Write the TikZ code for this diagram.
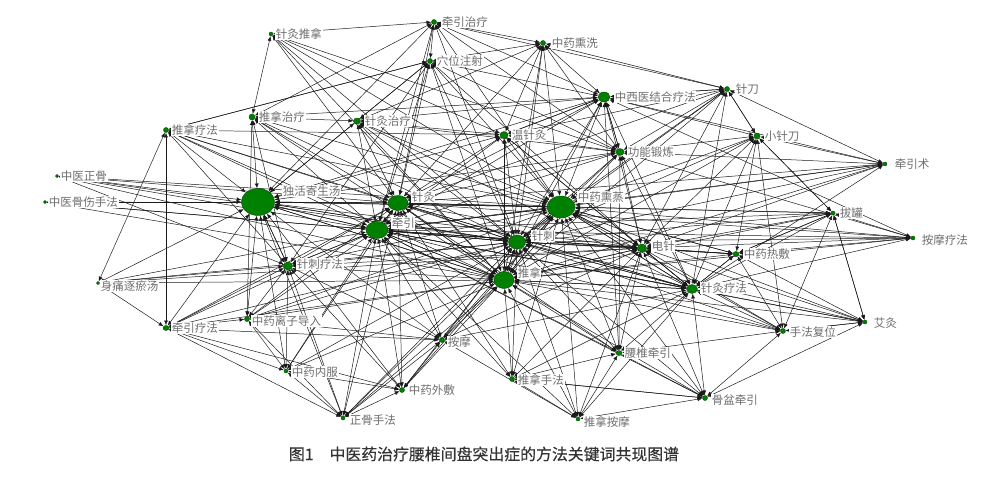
\documentclass[tikz,border=0pt]{standalone}
\usepackage{fontspec}
\usepackage{xcolor}
\usepackage{tikz}
\usetikzlibrary{arrows.meta,backgrounds,shapes.geometric}
\newfontfamily\cjk{Noto Sans CJK SC}
\newfontfamily\cjkcap[FakeBold=0.35]{Noto Sans CJK SC}
\newcommand{\pxu}{0.025cm}
% name/x/y/width/height/label x/label y/text (pixels)
\def\keywords{
  qyzl/434/22/5/5/441/22/牵引治疗,
  zjtn/271/34/4/4/275/34/针灸推拿,
  zyxx/543/43/5/5/551/43/中药熏洗,
  xwzs/430/61/5/5/436/61/穴位注射,
  zxy/604/97/12/10/614/97/中西医结合疗法,
  zd/727/89/5/5/735/89/针刀,
  tnzl/252/117/6/6/258/117/推拿治疗,
  zjzl/357/121/7/6/364/121/针灸治疗,
  tnlf/166/130/5/5/171/130/推拿疗法,
  wzj/504/135/8/7/511/135/温针灸,
  xzd/757/136/6/6/764/136/小针刀,
  gndl/620/152/8/7/627/152/功能锻炼,
  qys/885/164/4/4/894/164/牵引术,
  zyzg/57/176/3/3/60/176/中医正骨,
  zygs/45/202/3/3/48/202/中医骨伤手法,
  dhjst/258/202/33/27/282/191/独活寄生汤,
  zj/398/203/20/15/411/197/针灸,
  zyxz/561/207/28/22/577/197/中药熏蒸,
  bg/833/213/4/4/839/213/拔罐,
  qy/377/230/22/17/391/223/牵引,
  amlf/913/238/4/4/921/240/按摩疗法,
  zc/517/242/17/14/531/236/针刺,
  dz/642/248/9/8/651/246/电针,
  zyrf/736/254/6/5/743/254/中药热敷,
  zclf/288/266/9/8/296/264/针刺疗法,
  tn/504/280/20/17/517/273/推拿,
  styyt/98/283/3/3/100/286/身痛逐瘀汤,
  zjlf/692/289/11/9/700/288/针灸疗法,
  qylf/166/328/6/5/171/328/牵引疗法,
  zylz/247/319/5/5/251/321/中药离子导入,
  sffw/783/331/5/5/789/332/手法复位,
  aj/865/322/4/4/873/323/艾灸,
  am/442/340/5/5/447/342/按摩,
  yzqy/619/353/6/5/624/353/腰椎牵引,
  zynf/286/371/4/4/291/372/中药内服,
  tnsf/512/379/5/5/517/380/推拿手法,
  zywf/402/390/5/5/408/390/中药外敷,
  ppqy/705/398/5/5/711/400/骨盆牵引,
  zgsf/343/418/4/4/349/420/正骨手法,
  tnam/578/419/4/4/583/422/推拿按摩}
% source/target
\def\links{
  zjtn/qyzl, zjtn/tnzl, zjtn/zj, zjtn/zyxz, zjtn/zc, zjtn/tn, zjtn/wzj, zjtn/gndl,
  qyzl/zyxx, qyzl/xwzs, qyzl/zxy, qyzl/zj, qyzl/zyxz, qyzl/zc, qyzl/dhjst, qyzl/qy, qyzl/gndl, qyzl/zd, qyzl/tnzl,
  zyxx/zxy, zyxx/xwzs, zyxx/zj, zyxx/zyxz, zyxx/zc, zyxx/tn, zyxx/zd, zyxx/wzj, zyxx/zjzl, zyxx/gndl,
  xwzs/zj, xwzs/zxy, xwzs/qy, xwzs/zc, xwzs/dhjst, xwzs/tnlf, xwzs/zclf, xwzs/zyxz, xwzs/gndl, xwzs/dz, xwzs/tn, xwzs/zjzl,
  zxy/zj, zxy/qy, zxy/zc, zxy/tn, zxy/zyxz, zxy/gndl, zxy/wzj, zxy/dhjst, zxy/dz, zxy/zjlf, zxy/zd,
  zd/zxy, zd/xzd, zd/zyxz, zd/zc, zd/tn, zd/dz, zd/zjlf, zd/zj, zd/gndl, zd/wzj,
  tnzl/zjzl, tnzl/dhjst, tnzl/zylz, tnzl/zj, tnzl/qy, tnzl/zc, tnzl/tn, tnzl/zclf, tnzl/zyxz, tnzl/zxy,
  zjzl/dhjst, zjzl/zj, zjzl/qy, zjzl/zc, zjzl/tn, zjzl/gndl, zjzl/zxy, zjzl/zyxz, zjzl/wzj, zjzl/zjlf,
  tnlf/qylf, tnlf/styyt, tnlf/xwzs, tnlf/dhjst, tnlf/zj, tnlf/qy, tnlf/zc, tnlf/tn, tnlf/zyxz, tnlf/wzj, tnlf/zclf,
  wzj/zj, wzj/qy, wzj/zc, wzj/tn, wzj/zyxz, wzj/gndl, wzj/dz, wzj/zjlf, wzj/dhjst, wzj/zxy,
  xzd/zxy, xzd/gndl, xzd/zyxz, xzd/zc, xzd/tn, xzd/dz, xzd/zjlf, xzd/bg, xzd/zyrf, xzd/sffw, xzd/zd,
  gndl/zxy, gndl/zyxz, gndl/zc, gndl/tn, gndl/dz, gndl/zjlf, gndl/zj, gndl/qy, gndl/dhjst,
  qys/xzd, qys/gndl, qys/zyxz, qys/zc, qys/tn, qys/dz, qys/zjlf, qys/qy, qys/zj, qys/zxy, qys/zd,
  zyzg/dhjst, zyzg/zj, zyzg/qy, zyzg/zc, zyzg/zyxz, zyzg/tn, zyzg/zclf,
  zygs/dhjst, zygs/zj, zygs/qy, zygs/zc, zygs/tn,
  dhjst/zj, dhjst/qy, dhjst/zyxz, dhjst/zc, dhjst/tn, dhjst/zclf, dhjst/dz,
  zj/qy, zj/zyxz, zj/zc, zj/tn, zj/dz, zj/zjlf, zj/dhjst,
  zyxz/zc, zyxz/tn, zyxz/dz, zyxz/zjlf, zyxz/zj, zyxz/qy, zyxz/dhjst, zyxz/zyrf,
  bg/zyxz, bg/zc, bg/tn, bg/dz, bg/zjlf, bg/zyrf, bg/xzd, bg/aj, bg/qy, bg/zj,
  qy/zc, qy/tn, qy/dz, qy/zjlf, qy/dhjst, qy/zyxz, qy/zclf, qy/zj,
  amlf/zyxz, amlf/zc, amlf/tn, amlf/dz, amlf/zjlf, amlf/zyrf, amlf/bg, amlf/qy, amlf/zj, amlf/zxy, amlf/gndl,
  zc/tn, zc/dz, zc/zjlf, zc/zyxz, zc/qy, zc/dhjst,
  dz/tn, dz/zjlf, dz/zc, dz/zyxz, dz/zyrf, dz/qy,
  zyrf/dz, zyrf/zjlf, zyrf/zc, zyrf/tn, zyrf/zyxz, zyrf/qy, zyrf/bg,
  zclf/dhjst, zclf/zj, zclf/qy, zclf/zc, zclf/tn, zclf/zyxz, zclf/dz,
  tn/zc, tn/dz, tn/zjlf, tn/qy, tn/zj, tn/zyxz, tn/dhjst,
  styyt/zclf, styyt/qylf, styyt/dhjst, styyt/dz, styyt/zc, styyt/tn, styyt/qy,
  zjlf/zc, zjlf/tn, zjlf/dz, zjlf/zyxz, zjlf/qy, zjlf/zj, zjlf/zyrf,
  qylf/zylz, qylf/zgsf, qylf/zynf, qylf/zywf, qylf/dhjst, qylf/qy, qylf/zj, qylf/tn, qylf/zc, qylf/zclf, qylf/am,
  zylz/dhjst, zylz/zclf, zylz/qy, zylz/zj, zylz/zc, zylz/tn, zylz/zyxz, zylz/am,
  sffw/zjlf, sffw/dz, sffw/zc, sffw/tn, sffw/zyxz, sffw/qy, sffw/zyrf, sffw/bg, sffw/aj, sffw/yzqy,
  aj/sffw, aj/zjlf, aj/dz, aj/zc, aj/tn, aj/zyxz, aj/bg, aj/zyrf, aj/qy,
  am/qy, am/zc, am/tn, am/zyxz, am/zj, am/dhjst, am/zclf, am/dz, am/zjlf,
  yzqy/zc, yzqy/tn, yzqy/dz, yzqy/zjlf, yzqy/zyxz, yzqy/qy, yzqy/zj, yzqy/zxy, yzqy/gndl,
  zynf/zylz, zynf/dhjst, zynf/qy, zynf/zj, zynf/zc, zynf/tn, zynf/zclf, zynf/zywf, zynf/zgsf,
  tnsf/tn, tnsf/zc, tnsf/dz, tnsf/zyxz, tnsf/qy, tnsf/zj, tnsf/zjlf, tnsf/yzqy, tnsf/ppqy,
  zywf/qy, zywf/zj, zywf/zc, zywf/tn, zywf/zyxz, zywf/dhjst, zywf/zclf, zywf/am,
  ppqy/zjlf, ppqy/dz, ppqy/zc, ppqy/tn, ppqy/zyxz, ppqy/qy, ppqy/sffw, ppqy/yzqy, ppqy/tnsf, ppqy/aj,
  zgsf/zywf, zgsf/qy, zgsf/zj, zgsf/zc, zgsf/tn, zgsf/zyxz, zgsf/dhjst, zgsf/zclf, zgsf/am, zgsf/zylz,
  tnam/tn, tnam/zc, tnam/dz, tnam/zjlf, tnam/yzqy, tnam/tnsf, tnam/zyxz, tnam/ppqy, tnam/qy, tnam/am}
\definecolor{kwgreen}{RGB}{0,128,0}
\definecolor{kwgray}{RGB}{110,110,110}
\tikzset{
  kw/.style      = {ellipse, fill=kwgreen, draw=kwgreen!60!black, line width=0.3pt, inner sep=0pt},
  lbl/.style     = {anchor=west, fill=white, inner sep=0.4pt, text=kwgray,
                    font=\cjk\fontsize{8.2}{9}\selectfont},
  link/.style    = {{Latex[length=3.4pt,width=2.8pt]}-{Latex[length=3.4pt,width=2.8pt]},
                    line width=0.35pt, draw=black!90},
  caption/.style = {font=\cjkcap\fontsize{11.3}{13}\selectfont, text=black!80}
}
\begin{document}
\begin{tikzpicture}[x=\pxu, y=-\pxu]
  \useasboundingbox (0,0) rectangle (1000,480);
  % keywords and their labels
  \foreach \nm/\px/\py/\nw/\nh/\lx/\ly/\txt in \keywords {
    \node[kw, minimum width=\nw*\pxu, minimum height=\nh*\pxu] (\nm) at (\px,\py) {};
    \node[lbl] (\nm-l) at (\lx,\ly) {\txt};
  }
  % co-occurrence links behind everything
  \begin{scope}[on background layer]
    \foreach \src/\dst in \links {
      \draw[link] (\src) -- (\dst);
    }
  \end{scope}
  \node[caption] (cap) at (484,454) {图1\quad 中医药治疗腰椎间盘突出症的方法关键词共现图谱};
\end{tikzpicture}
\end{document}
